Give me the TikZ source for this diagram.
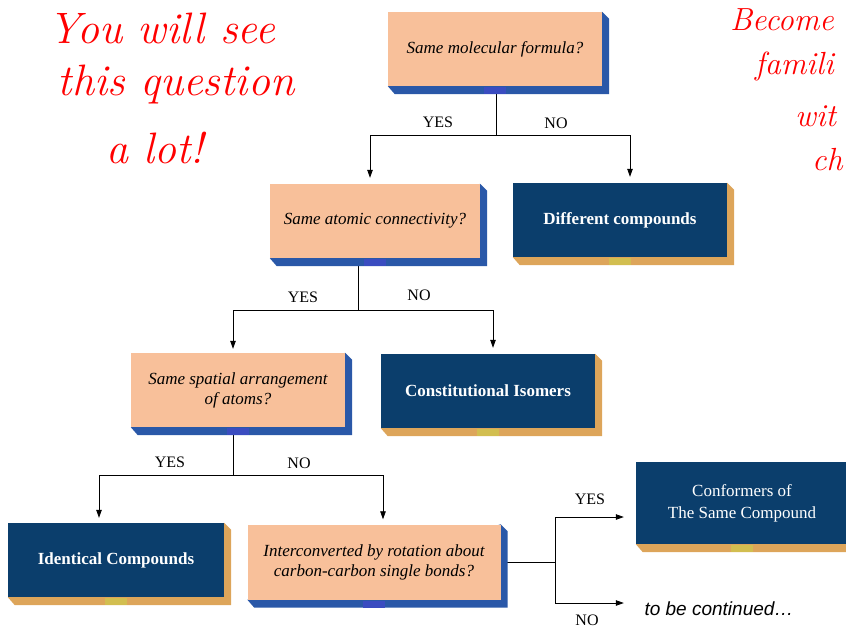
\documentclass[tikz,border=0pt]{standalone}
\usepackage{fontspec}
\usepackage{xcolor}
\usetikzlibrary{arrows.meta, positioning, calc, backgrounds}
\newfontfamily\boxfont{Liberation Serif}
\newfontfamily\contfont{Liberation Sans}
\definecolor{peach}{HTML}{F8C09A}
\definecolor{navy}{HTML}{0B3E6C}
\definecolor{blueside}{HTML}{2A58A8}
\definecolor{orangeside}{HTML}{DDA55A}
\definecolor{tabblue}{HTML}{3A4CC0}
\definecolor{tabgold}{HTML}{D2BE50}

\begin{document}
\begin{tikzpicture}[x=1pt, y=-1pt,
    question/.style={fill=peach, minimum width=#1, minimum height=74pt, inner sep=0pt,
        align=center, font=\boxfont\itshape\fontsize{17}{20}\selectfont},
    answer/.style={fill=navy, text=white, minimum width=#1, minimum height=74pt, inner sep=0pt,
        align=center, font=\boxfont\bfseries\fontsize{17}{20}\selectfont},
    link/.style={line width=0.8pt},
    arr/.style={line width=0.8pt, -{Triangle[length=8pt,width=5.5pt]}},
    lbl/.style={font=\boxfont\fontsize{16}{18}\selectfont},
    hand/.style={red, font=\itshape\fontsize{44}{48}\selectfont, inner sep=0pt},
    sidenote/.style={hand, font=\itshape\fontsize{32}{36}\selectfont, anchor=west}]
    \useasboundingbox (0,0) rectangle (846,627);

    % Handwritten notes
    \node[hand] (note1) at (162,28) {You will see};
    \node[hand] (note2) at (176,84) {this question};
    \node[hand] (note3) at (155,148) {a lot!};
    \node[sidenote] (note4) at (730,20) {Become};
    \node[sidenote] (note5) at (755,66) {famili};
    \node[sidenote] (note6) at (795,116) {wit};
    \node[sidenote] (note7) at (812,160) {ch};

    % Boxes
    \node[question=214pt] (q1) at (495,49) {Same molecular formula?};
    \node[question=210pt] (q2) at (375,221) {Same atomic connectivity?};
    \node[answer=214pt] (diff) at (620,220) {Different compounds};
    \node[question=214pt] (q3) at (238,390) {Same spatial arrangement\\of atoms?};
    \node[answer=214pt] (const) at (488,391) {Constitutional Isomers};
    \node[answer=216pt] (ident) at (116,560) {Identical Compounds};
    \node[question=253pt, minimum height=75pt] (q4) at (374,562) {Interconverted by rotation about\\carbon-carbon single bonds?};
    \node[answer=212pt, minimum height=82pt, font=\boxfont\fontsize{17}{22}\selectfont] (conf) at (742,503) {Conformers of\\The Same Compound};
    \node[font=\contfont\itshape\fontsize{19}{22}\selectfont, anchor=west] (cont) at (641,609) {to be continued…};

    % Branch points
    \coordinate (b1) at ($(q1.south)+(1,49)$);
    \coordinate (b2) at ($(q2.south)+(-17,52)$);
    \coordinate (b3) at ($(q3.south)+(-5,48)$);
    \coordinate (b4) at ($(q4.east)+(55,0)$);
    \coordinate (yesend) at ($(conf.west)+(-12,14)$);
    \coordinate (noend) at ($(yesend)+(0,86)$);

    % YES / NO labels
    \node[lbl] (y1) at (438,122) {YES};
    \node[lbl] (n1) at (556,123) {NO};
    \node[lbl] (y2) at (303,297) {YES};
    \node[lbl] (n2) at (419,295) {NO};
    \node[lbl] (y3) at (170,462) {YES};
    \node[lbl] (n3) at (299,463) {NO};
    \node[lbl] (y4) at (590,499) {YES};
    \node[lbl] (n4) at (587,620) {NO};

    \begin{pgfonlayer}{background}
        % Connectors
        \draw[link] (q1.south -| b1) -- (b1);
        \draw[arr, shorten >=6pt] (b1) -| ($(q2.north)+(-5,0)$);
        \draw[arr, shorten >=6pt] (b1) -| ($(diff.north)+(10,0)$);
        \draw[link] (q2.south -| b2) -- (b2);
        \draw[arr, shorten >=4pt] (b2) -| ($(q3.north)+(-5,0)$);
        \draw[arr, shorten >=6pt] (b2) -| ($(const.north)+(5,0)$);
        \draw[link] (q3.south -| b3) -- (b3);
        \draw[arr, shorten >=5pt] (b3) -| ($(ident.north)+(-17,0)$);
        \draw[arr, shorten >=5pt] (b3) -| ($(q4.north)+(9,0)$);
        \draw[link] (q4.east) -- (b4);
        \draw[arr] (b4) |- (yesend);
        \draw[arr] (b4) |- (noend);

        % Side faces and tabs
        \foreach \n/\c/\t in {q1/blueside/tabblue, q2/blueside/tabblue, q3/blueside/tabblue,
                q4/blueside/tabblue, diff/orangeside/tabgold, const/orangeside/tabgold,
                ident/orangeside/tabgold, conf/orangeside/tabgold} {
            \fill[\c] (\n.south west) -- ++(7,8) -- ($(\n.south east)+(7,8)$)
                -- ($(\n.north east)+(7,7)$) -- (\n.north east) -- cycle;
            \fill[\t] ($(\n.south)+(-11,1)$) rectangle ($(\n.south)+(11,8)$);
        }
    \end{pgfonlayer}
\end{tikzpicture}
\end{document}
